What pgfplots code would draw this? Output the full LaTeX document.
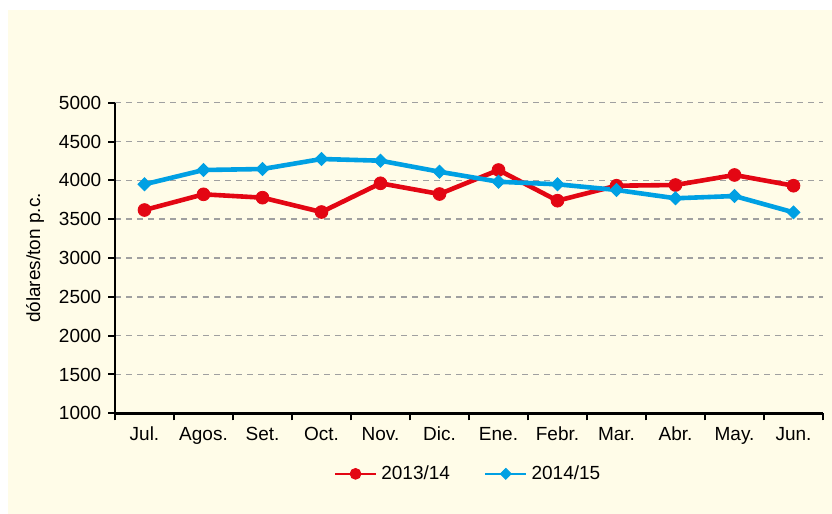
\documentclass[border=0pt]{standalone}
\usepackage{pgfplots}
\pgfplotsset{compat=1.18}
\usepackage{fontspec}
\setmainfont{Liberation Sans}
\definecolor{cream}{RGB}{255,252,232}
\definecolor{serred}{RGB}{227,6,19}
\definecolor{serblue}{RGB}{0,160,227}
\definecolor{gridgray}{RGB}{160,160,160}
\begin{document}
\fontsize{9.5}{11}\selectfont
\begin{tikzpicture}
\path[use as bounding box] (0,0) rectangle (416pt,257pt);
\fill[cream] (4pt,0) rectangle (416pt,252pt);
\begin{axis}[
  at={(57.5pt,50.35pt)}, anchor=south west,
  scale only axis, width=354pt, height=155.3pt,
  xmin=-0.5, xmax=11.5, ymin=1000, ymax=5000,
  axis x line=bottom, axis y line=left,
  axis line style={-, line width=1.3pt, black},
  tick align=outside,
  major tick length=3.5pt, minor tick length=3.5pt,
  tick style={black, line width=1pt},
  xtick={0,...,11},
  xticklabels={Jul.,Agos.,Set.,Oct.,Nov.,Dic.,Ene.,Febr.,Mar.,Abr.,May.,Jun.},
  minor xtick={-0.5,0.5,...,11.5},
  every major x tick/.append style={draw=none},
  ytick={1000,1500,...,5000},
  ymajorgrids,
  major grid style={gridgray, line width=0.8pt, dash pattern=on 3pt off 2.5pt},
  /pgf/number format/assume math mode=true,
  /pgf/number format/1000 sep={},
  ticklabel style={font=\fontsize{9.5}{11}\selectfont},
  ylabel={dólares/ton p.c.},
  every axis y label/.style={at={([xshift=-40pt]rel axis cs:0,0.5)}, rotate=90, anchor=center, font=\fontsize{9.5}{11}\selectfont},
  legend style={at={(0.5,-0.195)}, anchor=center, draw=none, fill=none,
    legend columns=2, font=\fontsize{9.5}{11}\selectfont,
    /tikz/every even column/.append style={column sep=15pt}},
  legend image code/.code={\draw[mark repeat=2,mark phase=2,#1, line width=1.3pt, every mark/.append style={scale=0.85}] plot coordinates {(0cm,0cm) (0.36cm,0cm) (0.72cm,0cm)};},
]
\addplot[serred, line width=2.3pt, mark=*, mark size=3.2pt, mark options={solid, line width=0.4pt}] coordinates {
(0,3618) (1,3820) (2,3777) (3,3592) (4,3962) (5,3824) (6,4133) (7,3738) (8,3931) (9,3940) (10,4069) (11,3931)};
\addlegendentry{2013/14}
\addplot[serblue, line width=2.3pt, mark=square*, mark size=2.3pt, mark options={solid, rotate=45, line width=0.4pt}] coordinates {
(0,3949) (1,4133) (2,4146) (3,4275) (4,4253) (5,4111) (6,3982) (7,3949) (8,3876) (9,3769) (10,3798) (11,3588)};
\addlegendentry{2014/15}
\end{axis}
\end{tikzpicture}
\end{document}
